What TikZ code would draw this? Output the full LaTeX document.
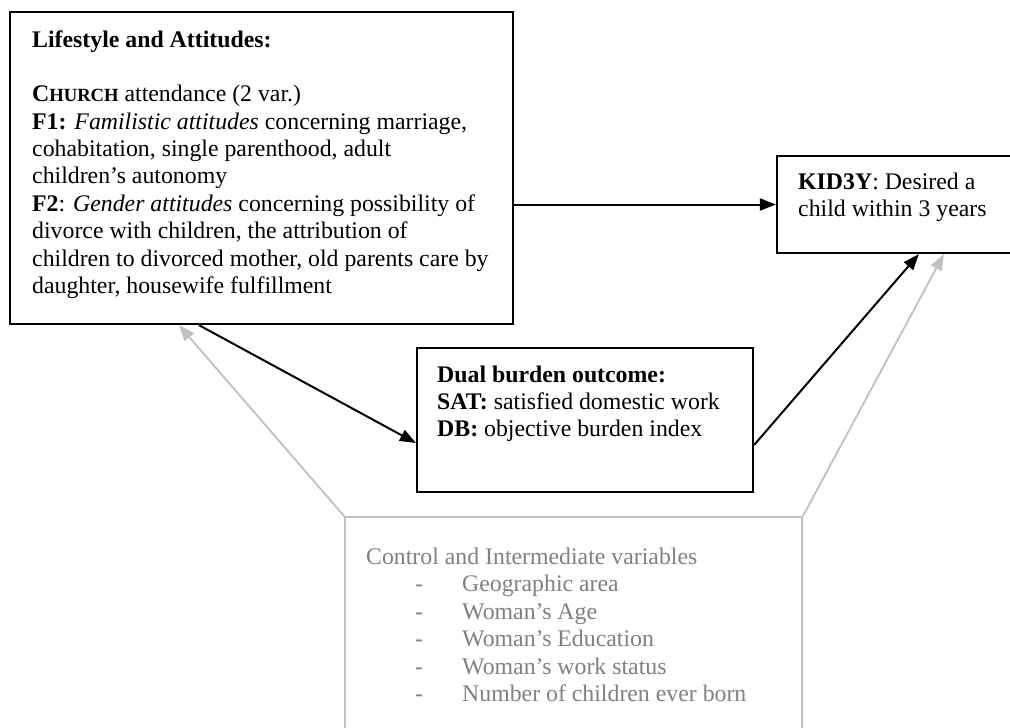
\documentclass[tikz,border=0pt]{standalone}
\usepackage{fontspec}
\setmainfont{Liberation Serif}
\usetikzlibrary{arrows.meta,calc}
\definecolor{lightline}{HTML}{C0C0C0}
\definecolor{greytext}{HTML}{808080}
\newcommand{\bodyfont}{\fontsize{23.8}{27.4}\selectfont}
\newcommand{\smallcapsfake}[1]{{\fontsize{18.6}{27.4}\selectfont #1}}
\begin{document}
\begin{tikzpicture}[x=1pt,y=-1pt,
  blackbox/.style={draw=black,line width=2.2pt,rectangle,inner sep=0pt},
  greybox/.style={draw=lightline,line width=1.8pt,rectangle,inner sep=0pt},
  txt/.style={anchor=base west,inner sep=0pt,font=\bodyfont},
  arr/.style={draw=black,line width=2pt,-{Triangle[length=16pt,width=12pt]}},
  greyarr/.style={draw=lightline,line width=1.8pt,-{Triangle[length=16pt,width=12pt]}}]
\useasboundingbox (0,0) rectangle (1010,728);
\clip (0,0) rectangle (1010,728);
\fill[white] (0,0) rectangle (1010,728);
% boxes
\node[blackbox,minimum width=503pt,minimum height=312pt] (A) at (261.5,168) {};
\node[blackbox,minimum width=238pt,minimum height=97pt] (B) at (896,204.5) {};
\node[blackbox,minimum width=336pt,minimum height=144pt] (C) at (585,420) {};
\node[greybox,minimum width=457pt,minimum height=223pt] (D) at (573.5,628.5) {};
% texts
\node[txt] (TA) at (32,47) {\parbox[t]{480pt}{\raggedright\bodyfont
\textbf{Lifestyle and Attitudes:}\\[27.4pt]
\textbf{C\smallcapsfake{HURCH}} attendance (2 var.)\\
\textbf{F1:} \textit{Familistic attitudes} concerning marriage,\\
cohabitation, single parenthood, adult\\
children’s autonomy\\
\textbf{F2}: \textit{Gender attitudes} concerning possibility of\\
divorce with children, the attribution of\\
children to divorced mother, old parents care by\\
daughter, housewife fulfillment}};
\node[txt] (TB) at (798,189) {\parbox[t]{210pt}{\raggedright\bodyfont
\textbf{KID3Y}: Desired a\\
child within 3 years}};
\node[txt] (TC) at (437,382) {\parbox[t]{310pt}{\raggedright\bodyfont
\textbf{Dual burden outcome:}\\
\textbf{SAT:} satisfied domestic work\\
\textbf{DB:} objective burden index}};
\node[txt,text=greytext] (TD) at (366,548) {\parbox[t]{430pt}{\raggedright\bodyfont\color{greytext}
Control and Intermediate variables\\
\makebox[96pt][l]{\hspace*{49pt}-}Geographic area\\
\makebox[96pt][l]{\hspace*{49pt}-}Woman’s Age\\
\makebox[96pt][l]{\hspace*{49pt}-}Woman’s Education\\
\makebox[96pt][l]{\hspace*{49pt}-}Woman’s work status\\
\makebox[96pt][l]{\hspace*{49pt}-}Number of children ever born}};
% connectors
\draw[arr] (A.east |- B.west) -- (B.west);
\draw[arr] ([xshift=190pt]A.south west) -- ([yshift=-23pt]C.west);
\draw[arr] ([yshift=-25pt]C.east) -- ([xshift=143pt]B.south west);
\draw[greyarr] (D.north west) -- ([xshift=170pt]A.south west);
\draw[greyarr] (D.north east) -- ([xshift=168pt]B.south west);
\end{tikzpicture}
\end{document}
